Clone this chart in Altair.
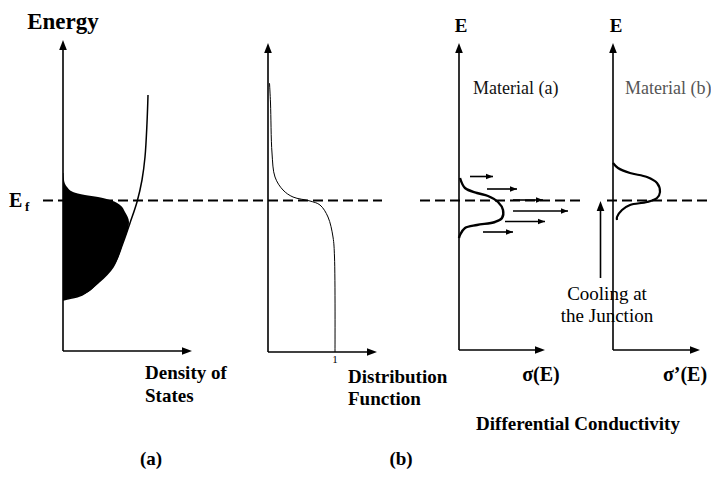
import altair as alt
import pandas as pd

FONT = "Liberation Serif"

# ---- panel axes (origin x, origin y, top arrow tip y, right arrow tip x)
axis_ox = [63, 268, 459, 613]
axis_oy = [351, 352, 350, 350]
axis_top = [40, 43, 43, 43]
axis_right = [192, 377, 545, 700]

# ---- Fermi level dashed segments
ef_level = 200.5
ef_x0 = [43, 420, 607]
ef_x1 = [382, 580, 719]

# ---- density of states curve (panel a, left)
dos_y = [95, 123, 157, 180, 202, 223, 243, 267, 283, 295, 299, 300]
dos_x = [148, 147, 145, 142, 137, 130, 123, 113, 98, 82, 67, 63]

# ---- occupied states (filled)
fill_y = [173, 180, 187, 192, 195, 197, 200, 205, 212, 222, 243, 267, 283, 295, 299, 300]
fill_x = [63.5, 64, 67, 73, 85, 98, 110, 120, 125, 129, 123, 113, 98, 82, 67, 63]

# ---- Fermi-Dirac distribution
fd_y = [83, 103, 153, 177, 190, 197, 201, 205, 217, 237, 257, 352]
fd_x = [269.5, 270.5, 272, 275, 283, 293, 310, 320, 328, 333, 334.5, 335]

# ---- differential conductivity, material (a)
sa_y = [178, 188, 193, 196, 202, 210, 218, 222, 225, 228, 235, 238]
sa_x = [460, 465, 477, 488, 498, 503, 502, 495, 477, 465, 460, 459]

# ---- differential conductivity, material (b)
sb_y = [163, 168, 173, 177, 183, 192, 198, 202, 205, 210, 217, 220]
sb_x = [613, 618, 630, 647, 657, 660, 657, 647, 630, 622, 617, 617]

# ---- carrier arrows in material (a)
arr_y = [176.5, 189, 200, 211, 221.5, 232]
arr_x0 = [470, 487, 513, 513, 505, 483]
arr_x1 = [493, 517, 543, 568, 545, 513]

# ---- cooling arrow
cool_x = 600.5
cool_y0 = 278
cool_y1 = 201

# ---- texts
bold_c_text = ["Energy", "E", "E", "σ(E)", "σ’(E)", "Differential Conductivity", "(a)", "(b)"]
bold_c_x = [63, 461, 616, 541, 685, 578, 151, 401]
bold_c_y = [29, 32, 32, 381, 381, 430, 465, 465]
bold_c_size = [23, 19, 19, 20, 20, 19, 19, 19]

bold_l_text = ["Density of", "States", "Distribution", "Function", "E", "f"]
bold_l_x = [145, 145, 348, 348, 9, 25]
bold_l_y = [379, 402, 383, 405, 207, 211]
bold_l_size = [19, 19, 19, 19, 20, 13]

reg_l_text = ["Material (a)", "Material (b)"]
reg_l_x = [473, 625]
reg_l_y = [94, 94]
reg_l_color = ["#111111", "#555555"]

reg_c_text = ["Cooling at", "the Junction", "1"]
reg_c_x = [607, 607, 335]
reg_c_y = [300, 322, 363]
reg_c_size = [19, 19, 11]

# ---------------------------------------------------------------
XS = alt.Scale(domain=[8, 711], nice=False, zero=False)
YS = alt.Scale(domain=[494, 8], nice=False, zero=False)


def X(f):
    return alt.X(f, type="quantitative", scale=XS, axis=None)


def Y(f):
    return alt.Y(f, type="quantitative", scale=YS, axis=None)


# axis lines
ax_rows = []
for ox, oy, top, right in zip(axis_ox, axis_oy, axis_top, axis_right):
    ax_rows.append({"x": ox, "y": oy, "x2": ox, "y2": top + 4})
    ax_rows.append({"x": ox, "y": oy, "x2": right - 4, "y2": oy})
ax_df = pd.DataFrame(ax_rows)
axes = alt.Chart(ax_df).mark_rule(color="black", strokeWidth=1.6).encode(
    x=X("x"), y=Y("y"), x2="x2", y2="y2")

# arrowheads
UP = "M0,0L-0.38,1L0.38,1Z"
RIGHT = "M0,0L-1,-0.38L-1,0.38Z"
up_df = pd.DataFrame({"x": axis_ox + [cool_x], "y": axis_top + [cool_y1]})
right_df = pd.DataFrame({"x": axis_right, "y": axis_oy})
up_heads = alt.Chart(up_df).mark_point(shape=UP, filled=True, color="black",
                                       size=400, opacity=1).encode(x=X("x"), y=Y("y"))
right_heads = alt.Chart(right_df).mark_point(shape=RIGHT, filled=True, color="black",
                                             size=400, opacity=1).encode(x=X("x"), y=Y("y"))

# Fermi level
ef_df = pd.DataFrame({"x": ef_x0, "x2": ef_x1, "y": [ef_level] * len(ef_x0)})
ef = alt.Chart(ef_df).mark_rule(color="black", strokeWidth=2.2, strokeDash=[10, 5]).encode(
    x=X("x"), x2="x2", y=Y("y"))

# filled occupied states
fill_df = pd.DataFrame({"y": fill_y, "x": fill_x, "base": [axis_ox[0]] * len(fill_y)})
fill = alt.Chart(fill_df).mark_area(orient="horizontal", color="black",
                                    interpolate="monotone", opacity=1).encode(
    y=Y("y"), x=X("x"), x2="base")


def curve(xs, ys, width):
    df = pd.DataFrame({"x": xs, "y": ys, "i": list(range(len(xs)))})
    return alt.Chart(df).mark_line(color="black", strokeWidth=width,
                                   interpolate="catmull-rom").encode(
        x=X("x"), y=Y("y"), order="i")


dos = curve(dos_x, dos_y, 1.5)
fd = curve(fd_x, fd_y, 1.0)
sa = curve(sa_x, sa_y, 2.4)
sb = curve(sb_x, sb_y, 2.2)

# carrier arrows
arr_df = pd.DataFrame({"x": arr_x0, "x2": arr_x1, "y": arr_y})
arr_lines = alt.Chart(arr_df).mark_rule(color="black", strokeWidth=1.6).encode(
    x=X("x"), x2="x2", y=Y("y"))
arr_heads = alt.Chart(arr_df).mark_point(shape=RIGHT, filled=True, color="black",
                                         size=196, opacity=1).encode(x=X("x2"), y=Y("y"))

# cooling arrow shaft
cool_df = pd.DataFrame({"x": [cool_x], "y": [cool_y0], "y2": [cool_y1 + 4]})
cool = alt.Chart(cool_df).mark_rule(color="black", strokeWidth=1.6).encode(
    x=X("x"), y=Y("y"), y2="y2")


def texts(txt, xs, ys, sizes, align, weight, colors=None):
    df = pd.DataFrame({"t": txt, "x": xs, "y": ys, "s": sizes,
                       "c": colors if colors else ["black"] * len(txt)})
    return alt.Chart(df).mark_text(font=FONT, fontWeight=weight, align=align,
                                   baseline="alphabetic").encode(
        x=X("x"), y=Y("y"), text="t",
        size=alt.Size("s", type="quantitative", scale=None),
        color=alt.Color("c", type="nominal", scale=None))


t1 = texts(bold_c_text, bold_c_x, bold_c_y, bold_c_size, "center", "bold")
t2 = texts(bold_l_text, bold_l_x, bold_l_y, bold_l_size, "left", "bold")
t3 = texts(reg_l_text, reg_l_x, reg_l_y, [18, 18], "left", "normal", reg_l_color)
t4 = texts(reg_c_text, reg_c_x, reg_c_y, reg_c_size, "center", "normal")

chart = alt.layer(
    fill, dos, fd, sa, sb, ef, axes, up_heads, right_heads,
    arr_lines, arr_heads, cool, t1, t2, t3, t4
).properties(
    width=703, height=486, autosize="none", padding=0, background="white"
).configure_view(stroke=None)

chart.save("out.html", embed_options={"renderer": "svg", "actions": False})
